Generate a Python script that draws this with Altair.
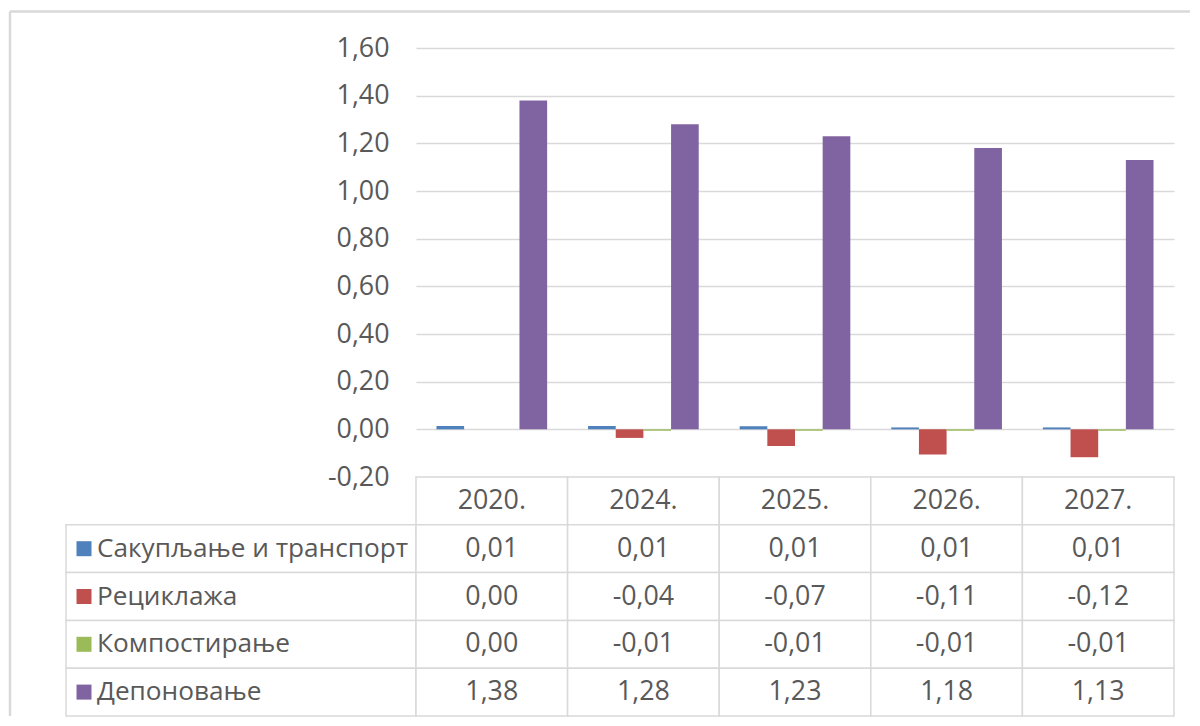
import altair as alt
import pandas as pd

years = ["2020.", "2024.", "2025.", "2026.", "2027."]
series = ["Сакупљање и транспорт", "Рециклажа", "Компостирање", "Депоновање"]
colors = ["#4F81BD", "#C0504D", "#9BBB59", "#8064A2"]

collect = [0.014, 0.014, 0.013, 0.008, 0.008]
recycle = [0.0, -0.036, -0.07, -0.106, -0.117]
compost = [0.0, -0.006, -0.006, -0.006, -0.006]
landfill = [1.38, 1.28, 1.23, 1.18, 1.13]

y_ticks = [-0.2, 0.0, 0.2, 0.4, 0.6, 0.8, 1.0, 1.2, 1.4, 1.6]

FONT = "Open Sans"
FS = 26.8
LFS = 26.2
TXT = "#595959"
GRID = "#d9d9d9"

rows = []
for s, vals in zip(series, [collect, recycle, compost, landfill]):
    for y, v in zip(years, vals):
        rows.append({"year": y, "series": s, "value": v,
                     "label": f"{v:.2f}".replace(".", ",")})
df = pd.DataFrame(rows)

row_keys = ["header"] + series
table_rows = [{"year": y, "row": "header", "label": y} for y in years]
table_rows += [{"year": r["year"], "row": r["series"], "label": r["label"]} for r in rows]
tdf = pd.DataFrame(table_rows)
ldf = pd.DataFrame({"row": series, "series": series})

PLOT_W, PLOT_H = 758, 429
LEFT_W, TABLE_H = 350, 239

# decorative outer frame (top-left cell)
frame_base = alt.Chart(pd.DataFrame({"a": [0]}))
vline = frame_base.mark_rule(color=GRID, strokeWidth=2.5).encode(
    x=alt.value(-56), y=alt.value(-36.5), y2=alt.value(PLOT_H + TABLE_H))
hline = frame_base.mark_rule(color=GRID, strokeWidth=2.5).encode(
    x=alt.value(-56), x2=alt.value(1124), y=alt.value(-36.5))
blank = alt.layer(vline, hline).properties(width=LEFT_W, height=PLOT_H)

label_expr = "replace(replace(format(datum.value, '.2f'), '.', ','), '\u2212', '-')"

bars = alt.Chart(df).mark_bar().encode(
    x=alt.X("year:N", sort=years, axis=None,
            scale=alt.Scale(paddingInner=0.27, paddingOuter=0.135)),
    xOffset=alt.XOffset("series:N", sort=series,
                        scale=alt.Scale(domain=series, paddingInner=0, paddingOuter=0)),
    y=alt.Y("value:Q", title=None,
            scale=alt.Scale(domain=[-0.2, 1.6], nice=False, zero=False),
            axis=alt.Axis(values=y_ticks, labelExpr=label_expr, grid=True,
                          gridColor=GRID, gridWidth=1.5, domain=False, ticks=False,
                          labelPadding=27, labelFont=FONT, labelFontSize=FS,
                          labelColor=TXT)),
    color=alt.Color("series:N", sort=series,
                    scale=alt.Scale(domain=series, range=colors), legend=None),
).properties(width=PLOT_W, height=PLOT_H)

# left column of data table (legend keys + series names)
lbase = alt.Chart(ldf).encode(
    y=alt.Y("row:N", sort=row_keys, axis=None,
            scale=alt.Scale(domain=row_keys, paddingInner=0, paddingOuter=0)))
lrect = lbase.mark_rect(fill="white", stroke=GRID, strokeWidth=1.5).encode(
    x=alt.value(0), x2=alt.value(LEFT_W))
lsq = lbase.mark_square(size=225, opacity=1).encode(
    x=alt.value(18),
    color=alt.Color("series:N", sort=series,
                    scale=alt.Scale(domain=series, range=colors), legend=None))
ltxt = lbase.mark_text(align="left", baseline="middle", font=FONT, fontSize=LFS,
                       color=TXT).encode(x=alt.value(31), text="series:N")
leftcol = alt.layer(lrect, lsq, ltxt).properties(width=LEFT_W, height=TABLE_H)

# data table cells
tbase = alt.Chart(tdf).encode(
    x=alt.X("year:N", sort=years, axis=None,
            scale=alt.Scale(domain=years, paddingInner=0, paddingOuter=0)),
    y=alt.Y("row:N", sort=row_keys, axis=None,
            scale=alt.Scale(domain=row_keys, paddingInner=0, paddingOuter=0)))
trect = tbase.mark_rect(fill="white", stroke=GRID, strokeWidth=1.5)
ttxt = tbase.mark_text(align="center", baseline="middle", font=FONT, fontSize=FS,
                       color=TXT).encode(text="label:N")
table = alt.layer(trect, ttxt).properties(width=PLOT_W, height=TABLE_H)

chart = alt.concat(blank, bars, leftcol, table, columns=2, spacing=0,
                   bounds="flush").properties(
    padding={"left": 0, "top": 2, "right": 0, "bottom": 0},
    background="white",
).configure(font=FONT).configure_view(stroke="transparent", strokeWidth=0)

chart.save("out.html", embed_options={"renderer": "svg", "actions": False})
